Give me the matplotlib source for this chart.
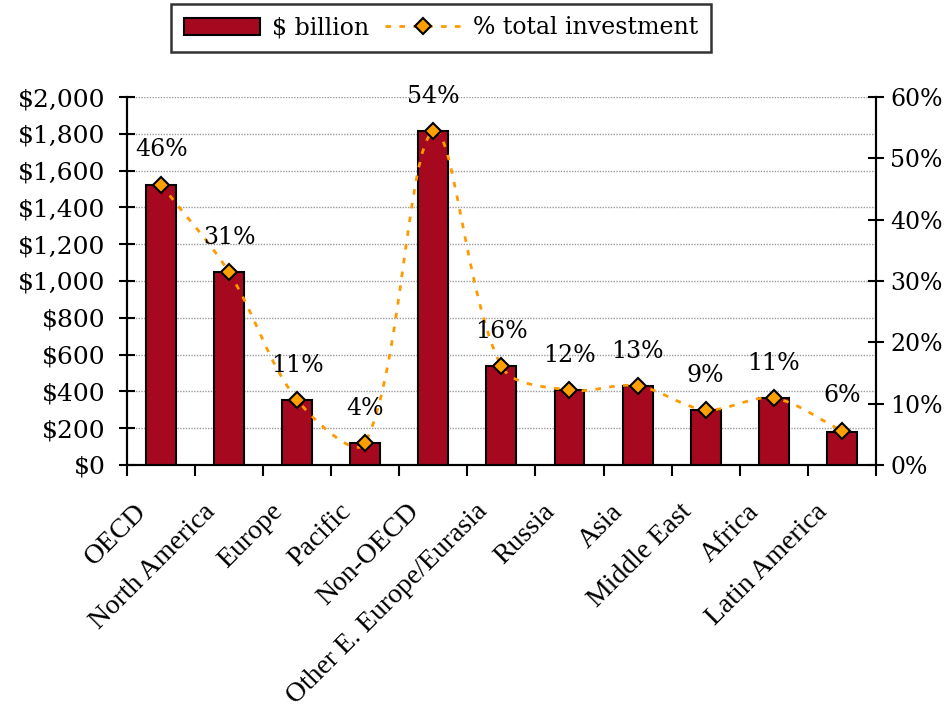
import matplotlib.pyplot as plt
import numpy as np
from matplotlib.path import Path
from matplotlib.patches import PathPatch, Patch
from matplotlib.lines import Line2D
from matplotlib.ticker import FuncFormatter, MultipleLocator
from matplotlib.transforms import ScaledTranslation

regions = ['OECD', 'North America', 'Europe', 'Pacific', 'Non-OECD',
           'Other E. Europe/Eurasia', 'Russia', 'Asia', 'Middle East',
           'Africa', 'Latin America']
billions = [1522, 1050, 353, 120, 1815, 538, 408, 429, 299, 364, 179]
share = [0.457, 0.314, 0.106, 0.036, 0.544, 0.161, 0.122, 0.129, 0.090, 0.109, 0.056]

bar_color = '#A6091F'
line_color = '#FF9900'
marker_color = '#FFA000'
num_font = 'DejaVu Serif'
cat_font = 'Liberation Serif'


def smooth_path(xs, ys, yscale):
    # cardinal spline as Bezier segments, tangents scaled by neighbouring segment lengths
    pts = np.column_stack([xs, np.asarray(ys) * yscale]).astype(float)
    n = len(pts)
    seg = np.hypot(*np.diff(pts, axis=0).T)
    verts = [pts[0]]
    codes = [Path.MOVETO]
    for i in range(n - 1):
        p1, p2 = pts[i], pts[i + 1]
        if i == 0:
            c1 = p1 + (p2 - p1) / 3
        else:
            c1 = p1 + (p2 - pts[i - 1]) * seg[i] / (seg[i - 1] + seg[i]) / 3
        if i + 2 >= n:
            c2 = p2 - (p2 - p1) / 3
        else:
            c2 = p2 - (pts[i + 2] - p1) * seg[i] / (seg[i] + seg[i + 1]) / 3
        verts += [c1, c2, p2]
        codes += [Path.CURVE4] * 3
    verts = np.array(verts)
    verts[:, 1] /= yscale
    return Path(verts, codes)


fig = plt.figure(figsize=(9.53, 7.17), dpi=100)
ax = fig.add_axes([0.1333, 0.3515, 0.7857, 0.5132])
ax2 = ax.twinx()

x = np.arange(len(regions))
ax.bar(x, billions, width=0.44, color=bar_color, edgecolor='black', linewidth=1.5, zorder=3)
ax.set_xlim(-0.5, len(regions) - 0.5)
ax.set_ylim(0, 2000)
ax.yaxis.set_major_locator(MultipleLocator(200))
ax.yaxis.set_major_formatter(FuncFormatter(lambda v, p: f'${v:,.0f}'))
ax.yaxis.grid(True, color='#9a9a9a', linewidth=1.0, linestyle=(0, (1, 1)), zorder=0)
ax.set_axisbelow(True)

# category names, rotated and hung below the axis
ax.set_xticks([])
ax.set_xticks(np.arange(len(regions) + 1) - 0.5, minor=True)
ax.tick_params(axis='x', which='minor', direction='out', length=8, width=1.5)
shift = ScaledTranslation(-0.18, -0.43, fig.dpi_scale_trans)
for xi, name in zip(x, regions):
    ax.text(xi, 0, name, transform=ax.get_xaxis_transform() + shift, rotation=45,
            rotation_mode='anchor', ha='right', va='center', fontsize=20, family=cat_font)

ax.tick_params(axis='y', direction='inout', length=11, width=1.5, labelsize=18, pad=10)
for lab in ax.get_yticklabels():
    lab.set_family(num_font)

ax2.set_ylim(0, 0.6)
ax2.yaxis.set_major_locator(MultipleLocator(0.1))
ax2.yaxis.set_major_formatter(FuncFormatter(lambda v, p: f'{v * 100:.0f}%'))
ax2.tick_params(axis='y', direction='inout', length=11, width=1.5, labelsize=17, pad=5)
for lab in ax2.get_yticklabels():
    lab.set_family(num_font)

for a in (ax, ax2):
    a.spines['top'].set_visible(False)
    for s in ('left', 'right', 'bottom'):
        a.spines[s].set_linewidth(1.5)

ax2.add_patch(PathPatch(smooth_path(x, share, 9.0), fill=False, edgecolor=line_color,
                        linewidth=2, linestyle=(0, (2, 3)), zorder=4))
ax2.plot(x, share, linestyle='none', marker='D', markersize=8, markerfacecolor=marker_color,
         markeredgecolor='black', markeredgewidth=1.5, zorder=5)

for xi, p in zip(x, share):
    ax2.annotate(f'{round(p * 100)}%', (xi, p), xytext=(0, 25), textcoords='offset points',
                 ha='center', va='center', fontsize=17, family=num_font, zorder=6)

handles = [Patch(facecolor=bar_color, edgecolor='black', linewidth=1.5),
           Line2D([], [], color=line_color, linewidth=2, linestyle=(0, (2, 3)), marker='D',
                  markersize=8, markerfacecolor=marker_color, markeredgecolor='black',
                  markeredgewidth=1.5)]
leg = fig.legend(handles, ['$ billion', '% total investment'], loc='center',
                 bbox_to_anchor=(441 / 953, 1 - 28 / 717), ncol=2, frameon=True,
                 fancybox=False, edgecolor='black', handlelength=3.2, handletextpad=0.5,
                 columnspacing=0.7, prop={'family': num_font, 'size': 17}, borderpad=0.55)
leg.get_frame().set_linewidth(1.8)

fig.savefig('out.png', dpi=100)
